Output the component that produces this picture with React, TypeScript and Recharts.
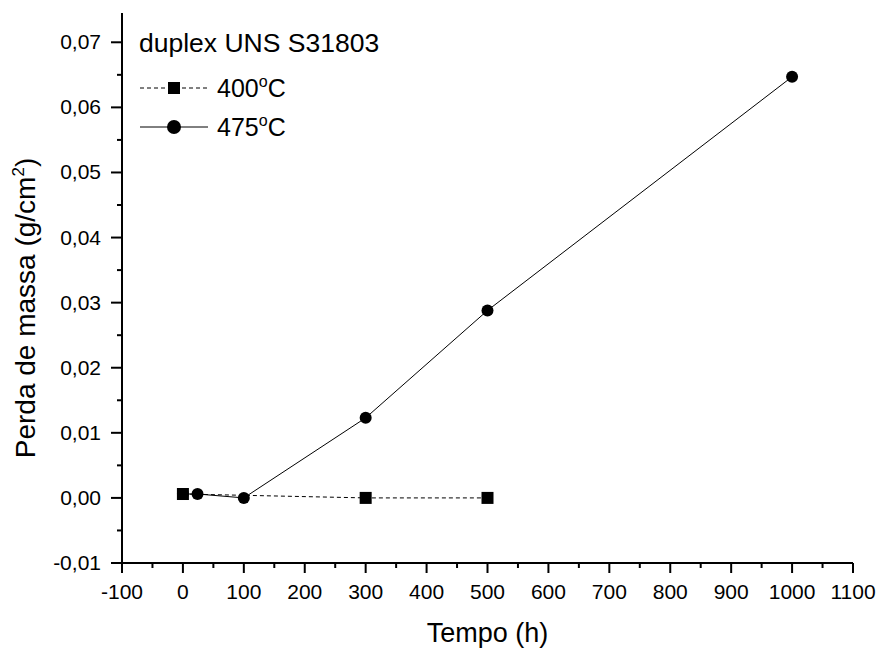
import {
  LineChart,
  Line,
  XAxis,
  YAxis,
  Legend,
  Label,
} from 'recharts'

const FONT = '"Liberation Sans", Arial, sans-serif'

// 400 oC series
const tempo400 = [0, 300, 500]
const massa400 = [0.0006, 0.0, 0.0]

// 475 oC series
const tempo475 = [0, 24, 100, 300, 500, 1000]
const massa475 = [0.0006, 0.0006, 0.0, 0.0123, 0.0288, 0.0647]

const xTicks = [
  -100, -50, 0, 50, 100, 150, 200, 250, 300, 350, 400, 450, 500, 550, 600, 650, 700, 750, 800,
  850, 900, 950, 1000, 1050, 1100,
]
const yTicks = [
  -0.01, -0.005, 0, 0.005, 0.01, 0.015, 0.02, 0.025, 0.03, 0.035, 0.04, 0.045, 0.05, 0.055,
  0.06, 0.065, 0.07,
]

const data400 = tempo400.map((t, i) => ({ tempo: t, massa: massa400[i] }))
const data475 = tempo475.map((t, i) => ({ tempo: t, massa: massa475[i] }))

const isMajorX = (v: number) => Math.round(v) % 100 === 0
const isMajorY = (v: number) => Math.round(v * 1000) % 10 === 0

function XTick({ x, y, payload }: any) {
  const major = isMajorX(payload.value)
  return (
    <g>
      <line x1={x} x2={x} y1={y} y2={y + (major ? 10 : 5)} stroke="#000" strokeWidth={2} />
      {major && (
        <text x={x} y={y + 36} textAnchor="middle" fontSize={21} fontFamily={FONT} fill="#000">
          {payload.value}
        </text>
      )}
    </g>
  )
}

function YTick({ x, y, payload }: any) {
  const major = isMajorY(payload.value)
  return (
    <g>
      <line x1={x - (major ? 11 : 5)} x2={x} y1={y} y2={y} stroke="#000" strokeWidth={2} />
      {major && (
        <text x={x - 21} y={y + 7} textAnchor="end" fontSize={21} fontFamily={FONT} fill="#000">
          {payload.value.toFixed(2).replace('.', ',')}
        </text>
      )}
    </g>
  )
}

function SquareDot({ cx, cy, index }: any) {
  return <rect key={`s${index}`} x={cx - 6} y={cy - 6} width={12} height={12} fill="#000" />
}

function CircleDot({ cx, cy, index }: any) {
  return <circle key={`c${index}`} cx={cx} cy={cy} r={6} fill="#000" />
}

function ChartLegend() {
  return (
    <svg width={400} height={150} style={{ position: 'absolute', left: 0, top: 0 }}>
      <text x={139} y={52} fontSize={26.5} fontFamily={FONT} fill="#000">
        duplex UNS S31803
      </text>
      <line x1={140} x2={208} y1={88} y2={88} stroke="#000" strokeWidth={1} strokeDasharray="4 3" />
      <rect x={168} y={82} width={12} height={12} fill="#000" />
      <text x={217} y={97} fontSize={25} fontFamily={FONT} fill="#000">
        400<tspan dy={-10} fontSize={16}>o</tspan>
        <tspan dy={10}>C</tspan>
      </text>
      <line x1={140} x2={208} y1={127} y2={127} stroke="#000" strokeWidth={1} />
      <circle cx={174} cy={127} r={7} fill="#000" />
      <text x={217} y={136} fontSize={25} fontFamily={FONT} fill="#000">
        475<tspan dy={-10} fontSize={16}>o</tspan>
        <tspan dy={10}>C</tspan>
      </text>
    </svg>
  )
}

export default function App() {
  return (
    <div style={{ position: 'absolute', left: 0, top: 0, width: 880, height: 648, background: '#fff' }}>
      <LineChart width={880} height={648} margin={{ top: 13, right: 27, bottom: 0, left: 0 }}>
        <XAxis
          xAxisId="main"
          dataKey="tempo"
          type="number"
          domain={[-100, 1100]}
          ticks={xTicks}
          interval={0}
          tick={<XTick />}
          tickLine={false}
          tickSize={0}
          tickMargin={0}
          height={85}
          axisLine={{ stroke: '#000', strokeWidth: 2 }}
          allowDataOverflow
        >
          <Label
            content={({ viewBox }: any) => (
              <text
                x={viewBox.x + viewBox.width / 2}
                y={viewBox.y + 79}
                textAnchor="middle"
                fontSize={27}
                fontFamily={FONT}
                fill="#000"
              >
                Tempo (h)
              </text>
            )}
          />
        </XAxis>
        <XAxis
          xAxisId="top"
          orientation="top"
          type="number"
          domain={[-100, 1100]}
          tick={false}
          tickLine={false}
          height={0}
          axisLine={{ stroke: '#000', strokeWidth: 2 }}
        />
        <YAxis
          yAxisId="main"
          type="number"
          domain={[-0.01, 0.0745]}
          ticks={yTicks}
          interval={0}
          tick={<YTick />}
          tickLine={false}
          tickSize={0}
          tickMargin={0}
          width={122}
          axisLine={{ stroke: '#000', strokeWidth: 2 }}
          allowDataOverflow
        >
          <Label
            content={() => {
              const cx = 35
              const cy = 308
              return (
                <text
                  x={cx}
                  y={cy}
                  transform={`rotate(-90 ${cx} ${cy})`}
                  textAnchor="middle"
                  fontSize={28}
                  fontFamily={FONT}
                  fill="#000"
                >
                  Perda de massa (g/cm<tspan dy={-11} fontSize={17}>2</tspan>
                  <tspan dy={11}>)</tspan>
                </text>
              )
            }}
          />
        </YAxis>
        <YAxis
          yAxisId="right"
          orientation="right"
          type="number"
          domain={[-0.01, 0.0745]}
          tick={false}
          tickLine={false}
          width={0}
          axisLine={{ stroke: '#000', strokeWidth: 2 }}
        />
        <Legend
          layout="vertical"
          align="center"
          verticalAlign="middle"
          wrapperStyle={{ left: 0, top: 0, width: 400, height: 150 }}
          content={() => <ChartLegend />}
        />
        <Line
          xAxisId="main"
          yAxisId="main"
          data={data475}
          dataKey="massa"
          name="475oC"
          stroke="#000"
          strokeWidth={1}
          dot={<CircleDot />}
          activeDot={false}
          isAnimationActive={false}
        />
        <Line
          xAxisId="main"
          yAxisId="main"
          data={data400}
          dataKey="massa"
          name="400oC"
          stroke="#000"
          strokeWidth={1}
          strokeDasharray="4 3"
          dot={<SquareDot />}
          activeDot={false}
          isAnimationActive={false}
        />
      </LineChart>
    </div>
  )
}
